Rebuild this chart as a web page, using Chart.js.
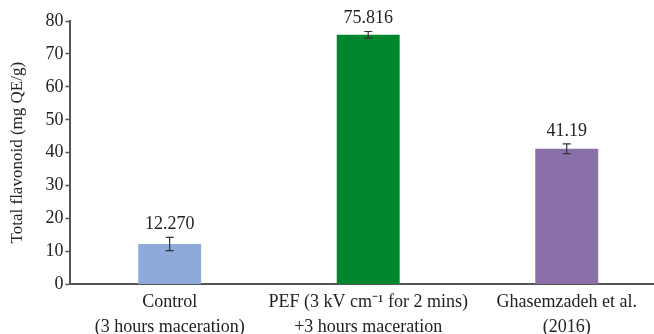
<!DOCTYPE html>
<html><head><meta charset="utf-8">
<script src="https://cdn.jsdelivr.net/npm/chart.js@4/dist/chart.umd.min.js"></script>
<style>html,body{margin:0;padding:0;background:#fff;overflow:hidden}#wrap{width:654px;height:334px;overflow:hidden}</style>
</head><body><div id="wrap"><canvas id="c" width="666" height="334"></canvas></div>
<script>
const categories = [["Control","(3 hours maceration)"],["PEF (3 kV cm\u207B\u00B9 for 2 mins)","+3 hours maceration"],["Ghasemzadeh et al.","(2016)"]];
const values = [12.270, 75.816, 41.19];
const errors = [2.0, 1.0, 1.5];
const valueLabels = ["12.270","75.816","41.19"];
const barColors = ["#8eaadb","#00872e","#8a70a8"];
const yTicks = [0,10,20,30,40,50,60,70,80];
const FONT = "'Liberation Serif','Times New Roman',serif";

const overlay = {
  id:'overlay',
  afterDatasetsDraw(chart){
    const ctx = chart.ctx, y = chart.scales.y, meta = chart.getDatasetMeta(0);
    ctx.save();
    meta.data.forEach((bar,i)=>{
      const x = bar.x, yt = y.getPixelForValue(values[i]+errors[i]), yb = y.getPixelForValue(values[i]-errors[i]);
      ctx.strokeStyle = '#333'; ctx.lineWidth = 1.2;
      ctx.beginPath();
      ctx.moveTo(x,yt); ctx.lineTo(x,yb);
      ctx.moveTo(x-4,yt); ctx.lineTo(x+4,yt);
      ctx.moveTo(x-4,yb); ctx.lineTo(x+4,yb);
      ctx.stroke();
      ctx.fillStyle = '#222'; ctx.font = '18px '+FONT; ctx.textAlign='center'; ctx.textBaseline='middle';
      ctx.fillText(valueLabels[i], x, yt-13);
    });
    ctx.restore();
  }
};

new Chart(document.getElementById('c'),{
  type:'bar',
  data:{labels:categories,datasets:[{data:values,backgroundColor:barColors,barPercentage:0.634,categoryPercentage:0.5}]},
  options:{
    responsive:false,animation:false,
    layout:{padding:{top:21,right:0,left:7,bottom:-11}},
    plugins:{legend:{display:false},tooltip:{enabled:false}},
    scales:{
      x:{
        grid:{display:false,drawTicks:false},
        border:{color:'#555',width:2},
        ticks:{color:'#222',font:{family:FONT,size:18,lineHeight:1.35},padding:6,maxRotation:0,autoSkip:false}
      },
      y:{
        min:0,max:80,
        afterBuildTicks(s){s.ticks = yTicks.map(v=>({value:v}));},
        grid:{drawOnChartArea:false,tickLength:5,color:'#555',tickWidth:1.5},
        border:{color:'#555',width:2},
        ticks:{color:'#222',font:{family:FONT,size:18},padding:2},
        title:{display:true,text:'Total flavonoid (mg QE/g)',color:'#222',font:{family:FONT,size:17},padding:{top:0,bottom:16}}
      }
    }
  },
  plugins:[overlay]
});
</script></body></html>
